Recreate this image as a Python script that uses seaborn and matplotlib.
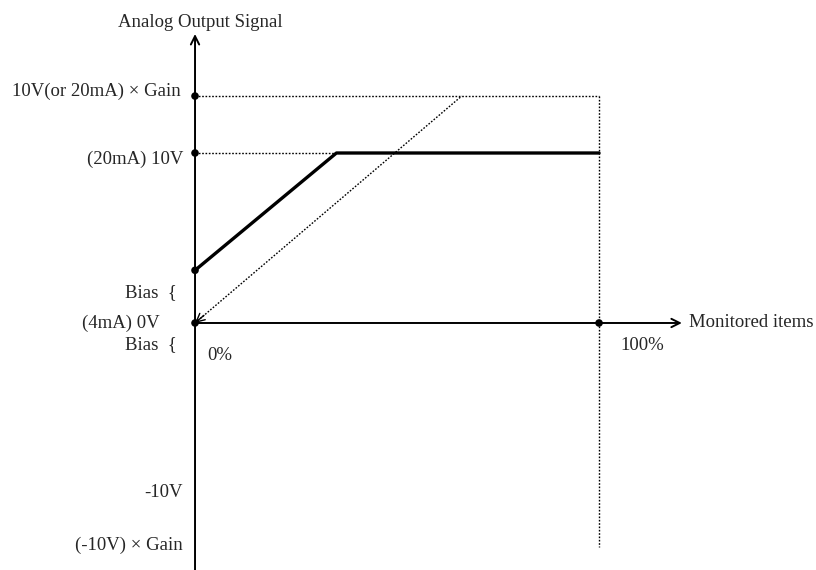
import numpy as np
import pandas as pd
import matplotlib
matplotlib.use("Agg")
import matplotlib.pyplot as plt
import seaborn as sns

# --------------------- Data ---------------------
GAIN_LEVEL = 13.35      # 10V x Gain, in volts
BIAS_LEVEL = 3.1        # bias offset, in volts
FULL_SCALE = 10.0
NEG_GAIN_LEVEL = -13.15

solid_x = [0, 35, 100]
solid_y = [BIAS_LEVEL, FULL_SCALE, FULL_SCALE]

dotted_x = [0, 66]
dotted_y = [0, GAIN_LEVEL]

dot_x = [0, 0, 0, 0, 100]
dot_y = [GAIN_LEVEL, FULL_SCALE, BIAS_LEVEL, 0, 0]

y_labels = ["10V(or 20mA) × Gain", "(20mA) 10V", "Bias  {", "(4mA) 0V", "Bias  {", "-10V", "(-10V) × Gain"]
y_label_pos = [GAIN_LEVEL + 0.25, 9.6, 1.8, 0.0, -1.3, -9.95, -13.1]
y_label_x = [-3.6, -3.0, -4.5, -8.7, -4.5, -3.0, -3.0]

# --------------------- Style ---------------------
sns.set_theme(style="white")
plt.rcParams['font.family'] = ['Liberation Serif', 'DejaVu Serif']

fig = plt.figure(figsize=(8.16, 5.7), dpi=100)
ax = fig.add_axes([0, 0, 1, 1])
ax.axis("off")

# guide lines (dotted)
dot_style = dict(color="black", lw=1.0, linestyle=(0, (1.2, 1.2)))
ax.plot([0, 100], [GAIN_LEVEL, GAIN_LEVEL], **dot_style)
ax.plot([0, solid_x[1]], [FULL_SCALE, FULL_SCALE], **dot_style)
ax.plot([100, 100], [GAIN_LEVEL, NEG_GAIN_LEVEL], **dot_style)

# axes with arrows
ax.annotate("", xy=(0, 17.0), xytext=(0, -14.6),
            arrowprops=dict(arrowstyle="->,head_length=0.5,head_width=0.25", color="black", lw=1.4,
                            shrinkA=0, shrinkB=0))
ax.annotate("", xy=(120.5, 0), xytext=(0, 0),
            arrowprops=dict(arrowstyle="->,head_length=0.5,head_width=0.25", color="black", lw=1.4,
                            shrinkA=0, shrinkB=0))

# signal lines
df_solid = pd.DataFrame({"x": solid_x, "y": solid_y})
df_dotted = pd.DataFrame({"x": dotted_x, "y": dotted_y})
sns.lineplot(data=df_solid, x="x", y="y", ax=ax, color="black", lw=2.4, sort=False)
sns.lineplot(data=df_dotted, x="x", y="y", ax=ax, color="black", lw=1.0,
             linestyle=(0, (1.2, 1.2)), sort=False)
# arrowhead of the dotted line at the origin
ax.annotate("", xy=(dotted_x[0], dotted_y[0]), xytext=(dotted_x[0] + 2.2, dotted_y[0] + 0.45),
            arrowprops=dict(arrowstyle="->,head_length=0.5,head_width=0.25", color="black", lw=1.0,
                            shrinkA=0, shrinkB=0))
sns.scatterplot(x=dot_x, y=dot_y, ax=ax, color="black", s=30, edgecolor="none", zorder=5)

ax.set_xlim(-48.27, 153.7)
ax.set_ylim(-14.53, 19.0)

# --------------------- Labels ---------------------
fs = 13.5
for lab, ypos, xpos in zip(y_labels, y_label_pos, y_label_x):
    ax.text(xpos, ypos, lab, ha="right", va="center", fontsize=fs)

ax.text(1.2, 17.7, "Analog Output Signal", ha="center", va="center", fontsize=fs)
ax.text(3.0, -1.9, "0%", ha="left", va="center", fontsize=fs)
ax.text(105.2, -1.3, "100%", ha="left", va="center", fontsize=fs)
ax.text(122.3, 0.0, "Monitored items", ha="left", va="center", fontsize=fs)

plt.savefig("out.png", dpi=100)
